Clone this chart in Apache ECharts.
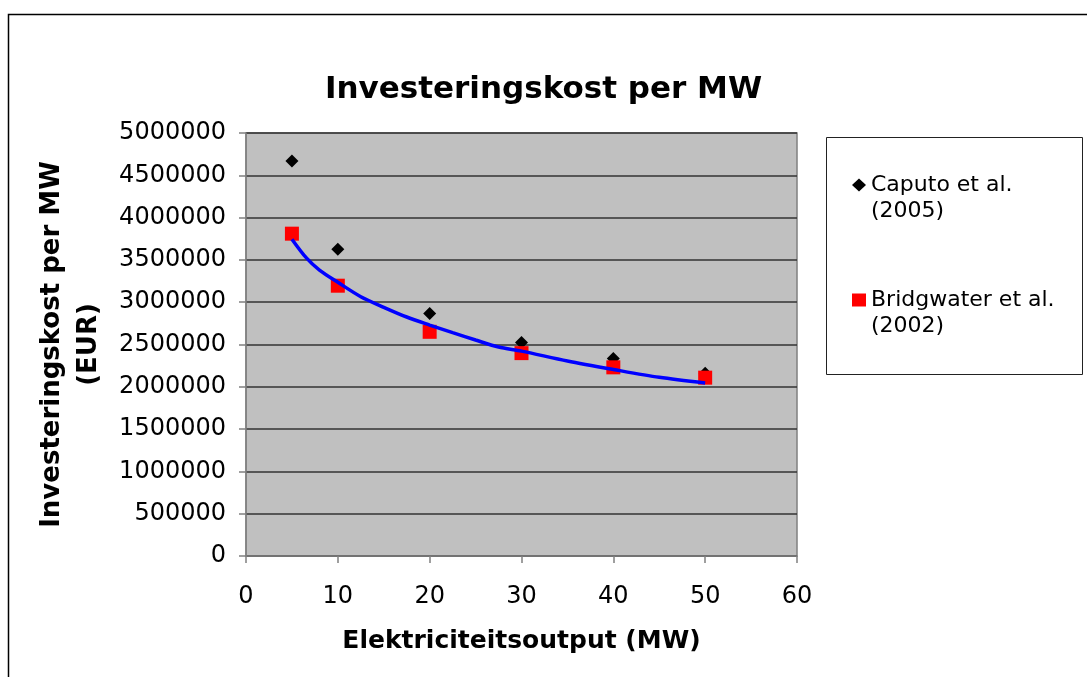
<!DOCTYPE html>
<html>
<head>
<meta charset="utf-8">
<script src="https://cdn.jsdelivr.net/npm/echarts@6/dist/echarts.min.js"></script>
<style>
html,body{margin:0;padding:0;background:#fff;}
#chart{width:1087px;height:677px;}
</style>
</head>
<body>
<div id="chart"></div>
<script>
// Data
const caputoX = [5, 10, 20, 30, 40, 50];
const caputoY = [4670000, 3625000, 2865000, 2525000, 2335000, 2160000];
const bridgwaterX = [5, 10, 20, 30, 40, 50];
const bridgwaterY = [3810000, 3195000, 2650000, 2398000, 2230000, 2108000];
// Trend curve (blue) at several x positions
const trendX = [5, 6.6, 8, 10, 12.5, 15, 17.5, 20, 22.5, 25, 27.5, 30, 35, 40, 45, 50];
const trendY = [3745000, 3520000, 3380000, 3235000, 3065000, 2940000, 2825000, 2730000, 2640000, 2553000, 2470000, 2422000, 2305000, 2205000, 2112000, 2045000];
const xTicks = [0, 10, 20, 30, 40, 50, 60];
const yTicks = [0, 500000, 1000000, 1500000, 2000000, 2500000, 3000000, 3500000, 4000000, 4500000, 5000000];

const zip = (xs, ys) => xs.map((x, i) => [x, ys[i]]);
const FONT = '"DejaVu Sans", Verdana, sans-serif';

const chart = echarts.init(document.getElementById('chart'), null, {renderer: 'canvas'});
chart.setOption({
  backgroundColor: '#ffffff',
  animation: false,
  title: {
    text: 'Investeringskost per MW',
    left: 'center',
    top: 69,
    textStyle: {fontFamily: FONT, fontWeight: 'bold', fontSize: 31, color: '#000'}
  },
  graphic: [
    {type: 'rect', z: -10, shape: {x: 8.5, y: 14.5, width: 1100, height: 700},
     style: {fill: null, stroke: '#000', lineWidth: 1.5}},
    {type: 'rect', z: -5, shape: {x: 826.5, y: 137.5, width: 256, height: 237},
     style: {fill: '#fff', stroke: '#222', lineWidth: 1}}
  ],
  legend: {
    orient: 'vertical',
    left: 852,
    top: 146,
    padding: 0,
    itemGap: 37,
    itemWidth: 14,
    itemHeight: 13,
    formatter: name => '\n' + name,
    data: [
      {name: 'Caputo et al.\n(2005)', icon: 'diamond'},
      {name: 'Bridgwater et al.\n(2002)', icon: 'rect'}
    ],
    textStyle: {fontFamily: FONT, fontSize: 22, color: '#000', lineHeight: 26}
  },
  grid: {
    left: 246, top: 133, right: 290, bottom: 121,
    show: true, backgroundColor: '#c0c0c0', borderColor: '#808080', borderWidth: 1.5
  },
  xAxis: {
    type: 'value',
    min: xTicks[0], max: xTicks[xTicks.length - 1], interval: 10,
    name: 'Elektriciteitsoutput (MW)',
    nameLocation: 'middle',
    nameGap: 73,
    nameTextStyle: {fontFamily: FONT, fontWeight: 'bold', fontSize: 25, color: '#000'},
    axisLine: {show: true, lineStyle: {color: '#808080', width: 1.5}},
    axisTick: {show: true, inside: false, length: 7, lineStyle: {color: '#808080', width: 1.5}},
    axisLabel: {fontFamily: FONT, fontSize: 24, color: '#000', margin: 29},
    splitLine: {show: false}
  },
  yAxis: {
    type: 'value',
    min: yTicks[0], max: yTicks[yTicks.length - 1], interval: 500000,
    name: 'Investeringskost per MW\n(EUR)',
    nameLocation: 'middle',
    nameRotate: 90,
    nameGap: 136,
    nameTextStyle: {fontFamily: FONT, fontWeight: 'bold', fontSize: 26, color: '#000', lineHeight: 37},
    axisLine: {show: true, lineStyle: {color: '#808080', width: 1.5}},
    axisTick: {show: true, inside: false, length: 7, lineStyle: {color: '#808080', width: 1.5}},
    axisLabel: {fontFamily: FONT, fontSize: 24, color: '#000', margin: 20, formatter: v => String(v)},
    splitLine: {show: true, lineStyle: {color: '#333', width: 1.5}}
  },
  series: [
    {
      name: 'Caputo et al.\n(2005)', type: 'scatter', symbol: 'diamond', symbolSize: 13,
      itemStyle: {color: '#000', opacity: 1}, data: zip(caputoX, caputoY), z: 2
    },
    {
      name: 'Bridgwater et al.\n(2002)', type: 'scatter', symbol: 'rect', symbolSize: 14,
      itemStyle: {color: '#ff0000', opacity: 1}, data: zip(bridgwaterX, bridgwaterY), z: 3
    },
    {
      name: 'trend', type: 'line', smooth: 0.3, showSymbol: false,
      lineStyle: {color: '#0000ff', width: 3.5}, data: zip(trendX, trendY), z: 4
    }
  ]
});
</script>
</body>
</html>
